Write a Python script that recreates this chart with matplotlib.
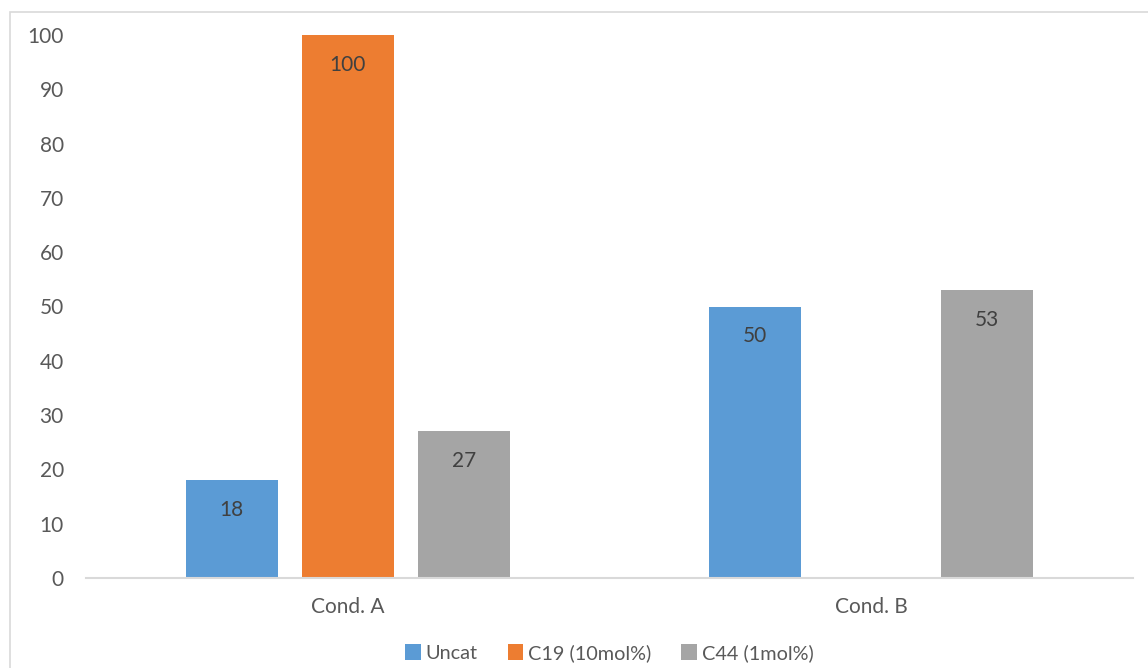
import numpy as np
import matplotlib
matplotlib.use("Agg")
import matplotlib.pyplot as plt
from matplotlib.patches import Rectangle

categories = ["Cond. A", "Cond. B"]
series_names = ["Uncat", "C19 (10mol%)", "C44 (1mol%)"]
uncat = [18, 50]
c19 = [100, np.nan]
c44 = [27, 53]
colors = ["#5B9BD5", "#ED7D31", "#A5A5A5"]
yticks = [0, 10, 20, 30, 40, 50, 60, 70, 80, 90, 100]

plt.rcParams['font.family'] = ['Lato', 'DejaVu Sans']
FS = 15
W, H = 1148, 668
fig = plt.figure(figsize=(W/100, H/100), dpi=100)
fig.patch.set_facecolor("white")

# outer chart frame
fig.add_artist(Rectangle((10/W, -0.1), 1.2, (H-12)/H + 0.1, transform=fig.transFigure,
                         fill=False, edgecolor="#D9D9D9", linewidth=1.2))

ax = fig.add_axes([86/W, 1-578/H, (1133-86)/W, (578-35)/H])
x = np.arange(len(categories))
width = 0.176
offset = 0.2216
data = [uncat, c19, c44]
for i, (vals, name, col) in enumerate(zip(data, series_names, colors)):
    pos = x + (i-1)*offset
    bars = ax.bar(pos, vals, width, color=col, label=name, zorder=2)
    for p, v in zip(pos, vals):
        if not np.isnan(v):
            ax.annotate(f"{v:g}", (p, v), xytext=(0, -21.5), textcoords="offset points",
                        ha="center", va="center", color="#404040", fontsize=FS)

ax.set_xlim(-0.5, 1.5)
ax.set_ylim(0, 100)
ax.set_yticks(yticks)
ax.set_xticks(x)
ax.set_xticklabels(categories)
for s in ["top", "right", "left"]:
    ax.spines[s].set_visible(False)
ax.spines["bottom"].set_color("#D9D9D9")
ax.spines["bottom"].set_linewidth(1.5)
ax.spines["bottom"].set_zorder(3)
ax.tick_params(axis="both", length=0, labelsize=FS, colors="#595959")
ax.tick_params(axis="y", pad=16)
ax.tick_params(axis="x", pad=14)

leg = ax.legend(loc="center", bbox_to_anchor=(0.5, -(653-578)/(578-35)), ncol=3, frameon=False,
                fontsize=14.3, handlelength=0.8, handleheight=0.8, handletextpad=0.25,
                columnspacing=1.5, labelcolor="#595959")

fig.savefig("out.png", dpi=100)
